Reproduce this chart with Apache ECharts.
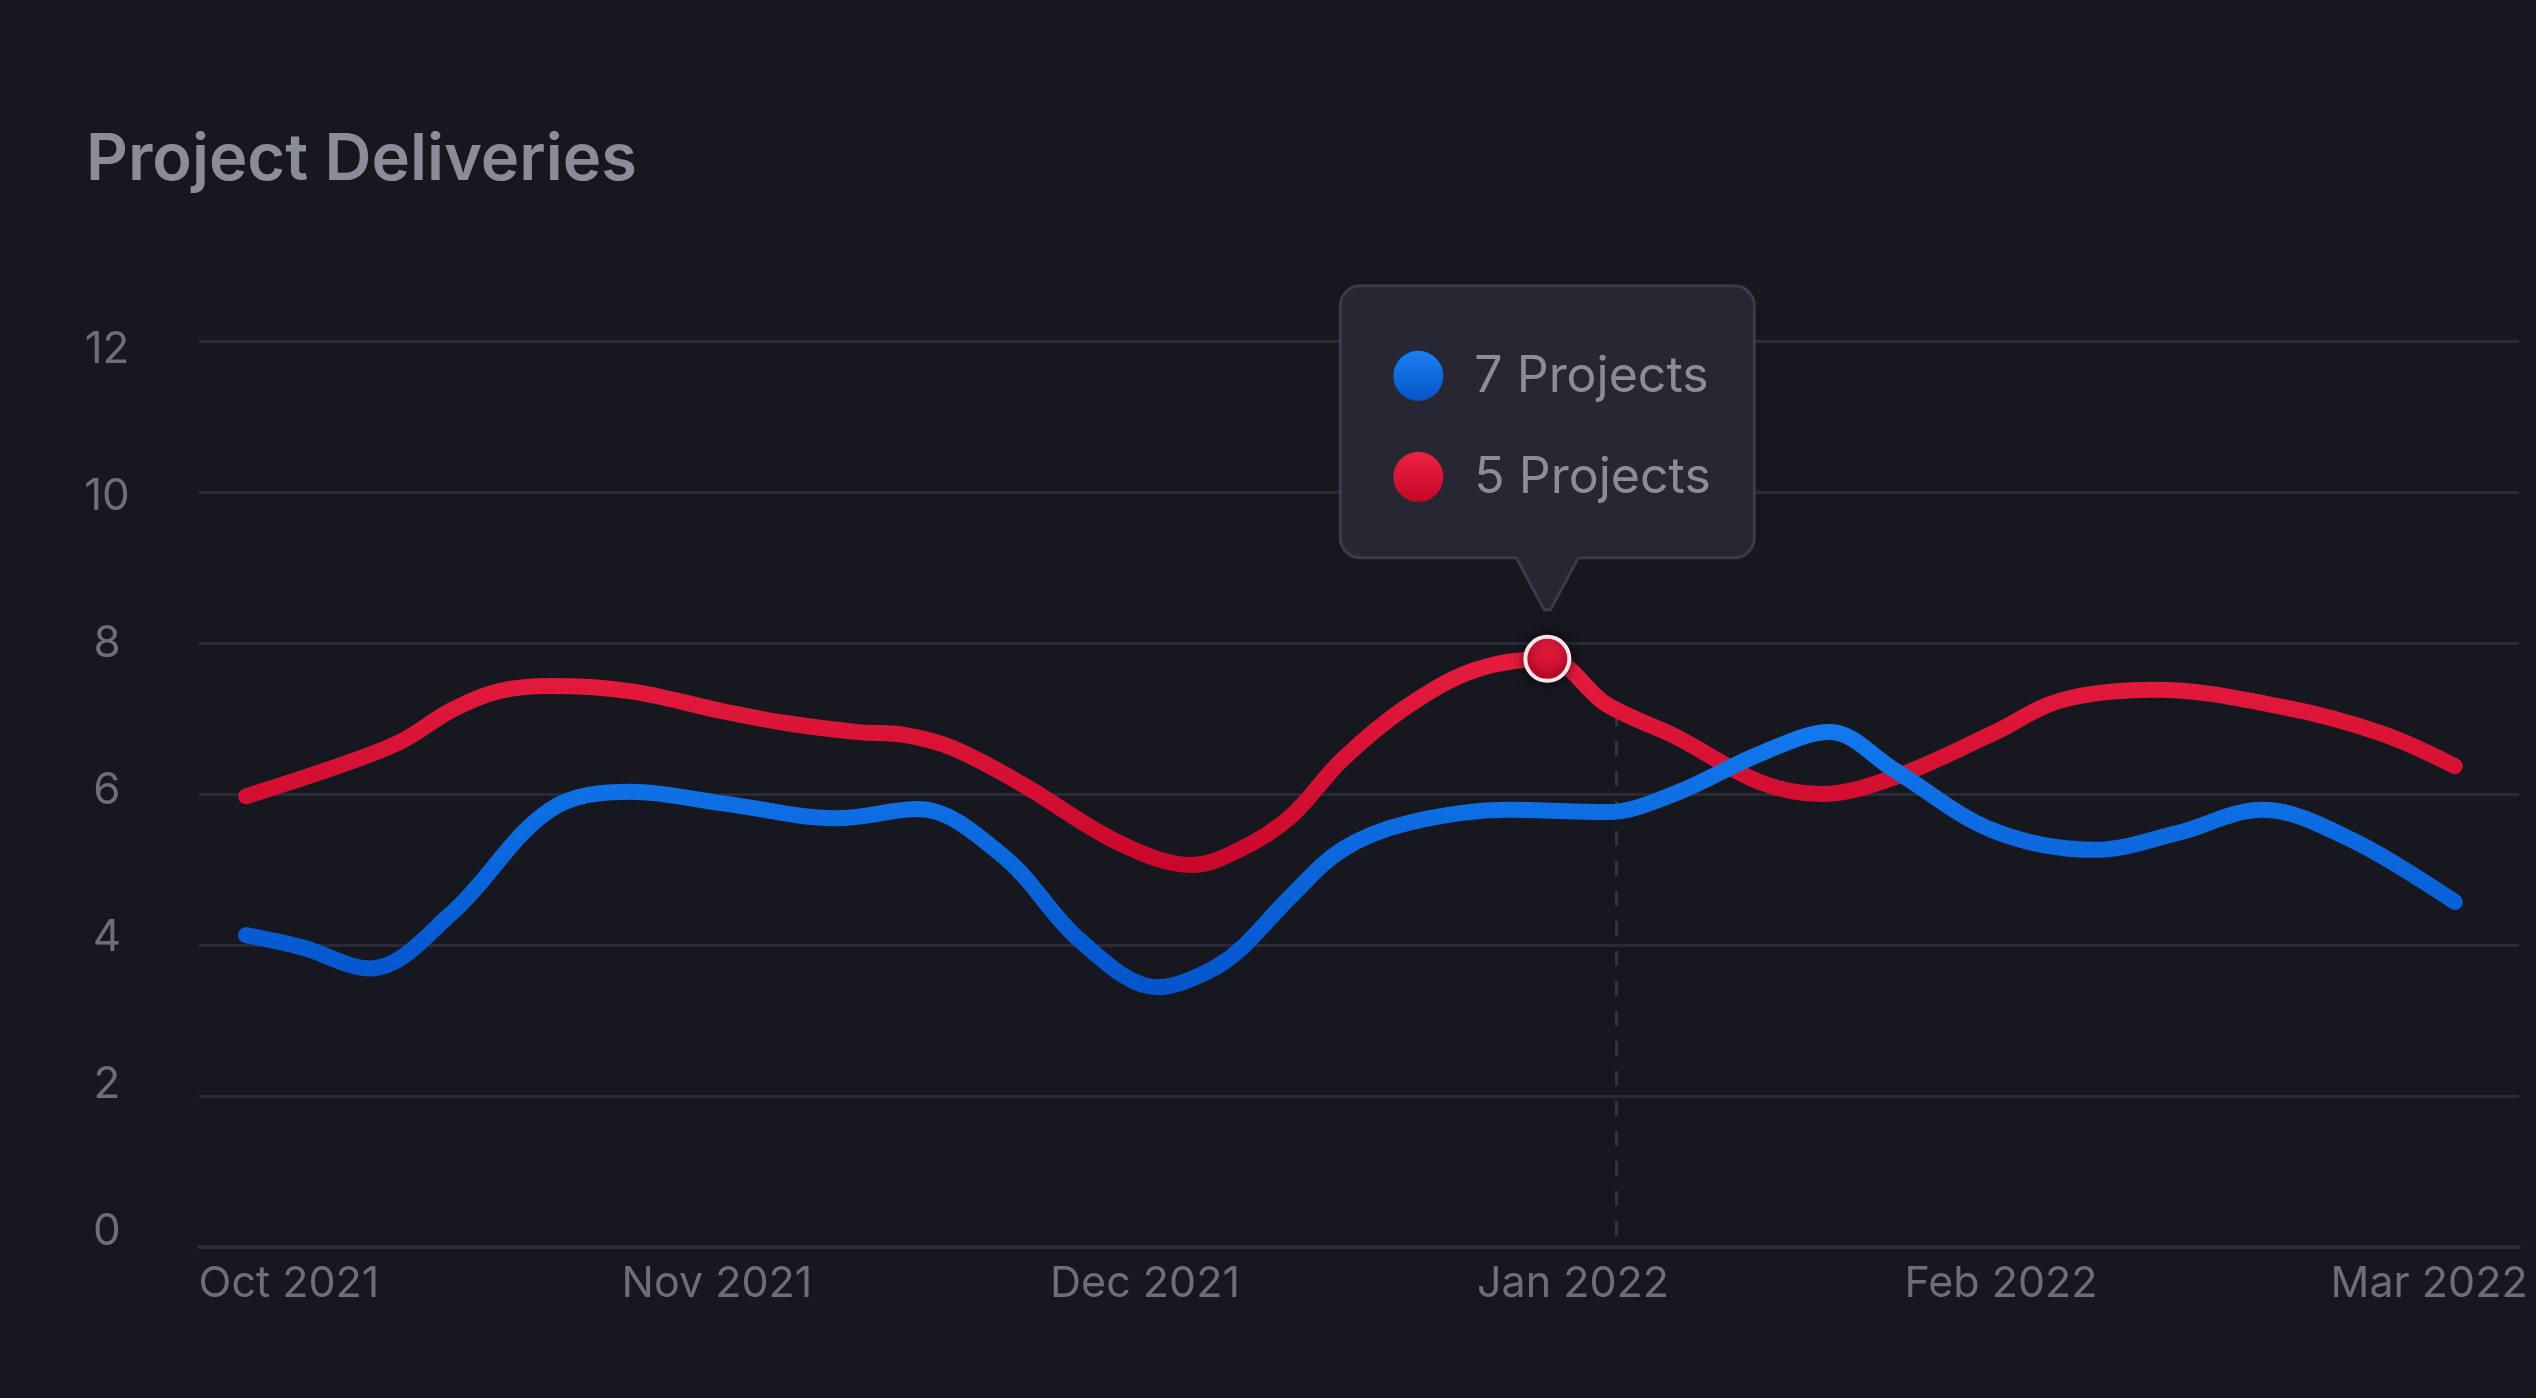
<!DOCTYPE html>
<html>
<head>
<meta charset="utf-8">
<script src="https://cdn.jsdelivr.net/npm/echarts@6/dist/echarts.min.js"></script>
<style>
  html, body { margin: 0; padding: 0; background: #16171f; }
  #chart { width: 2536px; height: 1398px; }
</style>
</head>
<body>
<div id="chart"></div>
<script>
// ---- data (x in months from Oct 2021 = 0) ----
const monthLabels = ['Oct 2021', 'Nov 2021', 'Dec 2021', 'Jan 2022', 'Feb 2022', 'Mar 2022'];
const monthTicks = [0, 1, 2, 3, 4, 5];
const yTicks = [0, 2, 4, 6, 8, 10, 12];

const blueX = [-0.10, 0.03, 0.19, 0.38, 0.61, 0.80, 1.01, 1.28, 1.47, 1.67, 1.85, 2.03, 2.14, 2.22,
               2.34, 2.46, 2.61, 2.85, 3.08, 3.24, 3.44, 3.60, 3.75, 3.98, 4.22, 4.41, 4.61, 4.82, 5.06];
const blueY = [4.13, 3.97, 3.69, 4.42, 5.79, 6.03, 5.88, 5.68, 5.80, 5.17, 4.05, 3.44, 3.63, 3.93,
               4.64, 5.26, 5.61, 5.79, 5.76, 6.01, 6.54, 6.82, 6.32, 5.52, 5.26, 5.48, 5.79, 5.39, 4.57];

const redX = [-0.10, 0.10, 0.26, 0.38, 0.49, 0.61, 0.80, 1.01, 1.16, 1.33, 1.44, 1.55, 1.71, 1.94, 2.11, 2.22,
              2.34, 2.46, 2.61, 2.77, 2.94, 3.08, 3.24, 3.44, 3.58, 3.75, 3.98, 4.14, 4.36, 4.66, 4.89, 5.06];
const redY = [5.97, 6.34, 6.69, 7.11, 7.36, 7.43, 7.36, 7.10, 6.94, 6.82, 6.78, 6.61, 6.14, 5.35, 5.06, 5.26,
              5.70, 6.45, 7.15, 7.64, 7.79, 7.18, 6.76, 6.15, 6.00, 6.22, 6.80, 7.24, 7.38, 7.15, 6.80, 6.37];

const highlightX = 2.94;
const highlightY = 7.79;
const dropLineX = 3.1;
const dropLineTop = 7.1;
const tooltipRows = ['7 Projects', '5 Projects'];

// ---- chart ----
const FONT = 'Inter, "Noto Sans", sans-serif';
const chart = echarts.init(document.getElementById('chart'), null, { renderer: 'canvas' });

const blueGrad = new echarts.graphic.LinearGradient(0, 0, 0, 1, [
  { offset: 0, color: '#1279ee' }, { offset: 1, color: '#0454cb' }]);
const redGrad = new echarts.graphic.LinearGradient(0, 0, 0, 1, [
  { offset: 0, color: '#e61c3e' }, { offset: 1, color: '#c9072a' }]);

chart.setOption({
  backgroundColor: '#16171f',
  animation: false,
  title: {
    text: 'Project Deliveries',
    left: 81, top: 123,
    textStyle: { color: '#8a8d97', fontSize: 65, fontWeight: 600, fontFamily: FONT }
  },
  grid: { left: 199, right: 17, top: 341, bottom: 151, containLabel: false },
  xAxis: {
    type: 'value', min: -0.21, max: 5.21,
    axisLine: { show: true, lineStyle: { color: '#2c2d38', width: 4 } },
    axisTick: { show: false },
    splitLine: { show: false },
    axisLabel: {
      customValues: monthTicks,
      formatter: v => monthLabels[Math.round(v)],
      color: '#6c6f7a', fontSize: 43, fontFamily: FONT, margin: 16
    }
  },
  yAxis: [{
    type: 'value', min: 0, max: 12, interval: 2,
    axisLine: { show: false }, axisTick: { show: false },
    axisLabel: { show: false },
    splitLine: { lineStyle: { color: '#2a2b36', width: 3 } }
  }, {
    type: 'value', min: -0.204, max: 12.123, position: 'left',
    axisLine: { show: false }, axisTick: { show: false },
    splitLine: { show: false },
    axisLabel: {
      customValues: yTicks,
      align: 'center', margin: 92,
      color: '#6c6f7a', fontSize: 44, fontFamily: FONT
    }
  }],
  series: [{
    name: 'Red',
    type: 'line', z: 2,
    data: redX.map((x, i) => [x, redY[i]]),
    smooth: 0.35, symbol: 'none',
    lineStyle: { width: 16, color: redGrad, cap: 'round', join: 'round' },
    markLine: {
      z: 1, silent: true, symbol: 'none', label: { show: false },
      lineStyle: { color: '#32333e', width: 3, type: [15, 15] },
      data: [[{ coord: [dropLineX, dropLineTop] }, { coord: [dropLineX, 0] }]]
    },
    markPoint: {
      z: 10, silent: true,
      symbol: 'circle', symbolSize: 44,
      label: { show: false },
      itemStyle: {
        color: new echarts.graphic.LinearGradient(0, 0, 0, 1, [
          { offset: 0, color: '#ea2142' }, { offset: 1, color: '#c80828' }]),
        borderColor: '#fde6e9', borderWidth: 4,
        shadowBlur: 12, shadowColor: 'rgba(0,0,0,0.55)'
      },
      data: [{ coord: [highlightX, highlightY] }]
    }
  }, {
    name: 'Blue',
    type: 'line', z: 3,
    data: blueX.map((x, i) => [x, blueY[i]]),
    smooth: 0.35, symbol: 'none',
    lineStyle: { width: 16, color: blueGrad, cap: 'round', join: 'round' }
  }]
});

// ---- tooltip callout anchored at the highlighted point ----
const p = chart.convertToPixel({ xAxisIndex: 0, yAxisIndex: 0 }, [highlightX, highlightY]);
const cx = p[0], cy = p[1];
const boxW = 414, boxH = 272, boxBottom = cy - 101;
const dotColors = [
  new echarts.graphic.LinearGradient(0, 0, 0, 1, [{ offset: 0, color: '#1a80f3' }, { offset: 1, color: '#0754c8' }]),
  new echarts.graphic.LinearGradient(0, 0, 0, 1, [{ offset: 0, color: '#ec2244' }, { offset: 1, color: '#c60626' }])
];
const rowY = [cy - 283, cy - 182];
const graphics = [
  { type: 'rect', z: 100, shape: { x: cx - boxW / 2, y: boxBottom - boxH, width: boxW, height: boxH, r: 20 },
    style: { fill: '#262733', stroke: '#3b3c49', lineWidth: 3 } },
  { type: 'polygon', z: 101, shape: { points: [[cx - 31, boxBottom - 3], [cx + 31, boxBottom - 3], [cx + 31, boxBottom], [cx, cy - 47], [cx - 31, boxBottom]] },
    style: { fill: '#262733' } },
  { type: 'polyline', z: 102, shape: { points: [[cx - 31, boxBottom], [cx - 3, cy - 49], [cx + 3, cy - 49], [cx + 31, boxBottom]] },
    style: { stroke: '#3b3c49', lineWidth: 3, fill: null, lineJoin: 'round' } }
];
tooltipRows.forEach((t, i) => {
  graphics.push({ type: 'circle', z: 103, shape: { cx: cx - 129, cy: rowY[i], r: 25 }, style: { fill: dotColors[i] } });
  graphics.push({ type: 'text', z: 103, x: cx - 73, y: rowY[i] + 1,
    style: { text: t, fill: '#8a8d97', font: '400 50px ' + FONT, textAlign: 'left', textVerticalAlign: 'middle' } });
});
chart.setOption({ graphic: graphics });
</script>
</body>
</html>
